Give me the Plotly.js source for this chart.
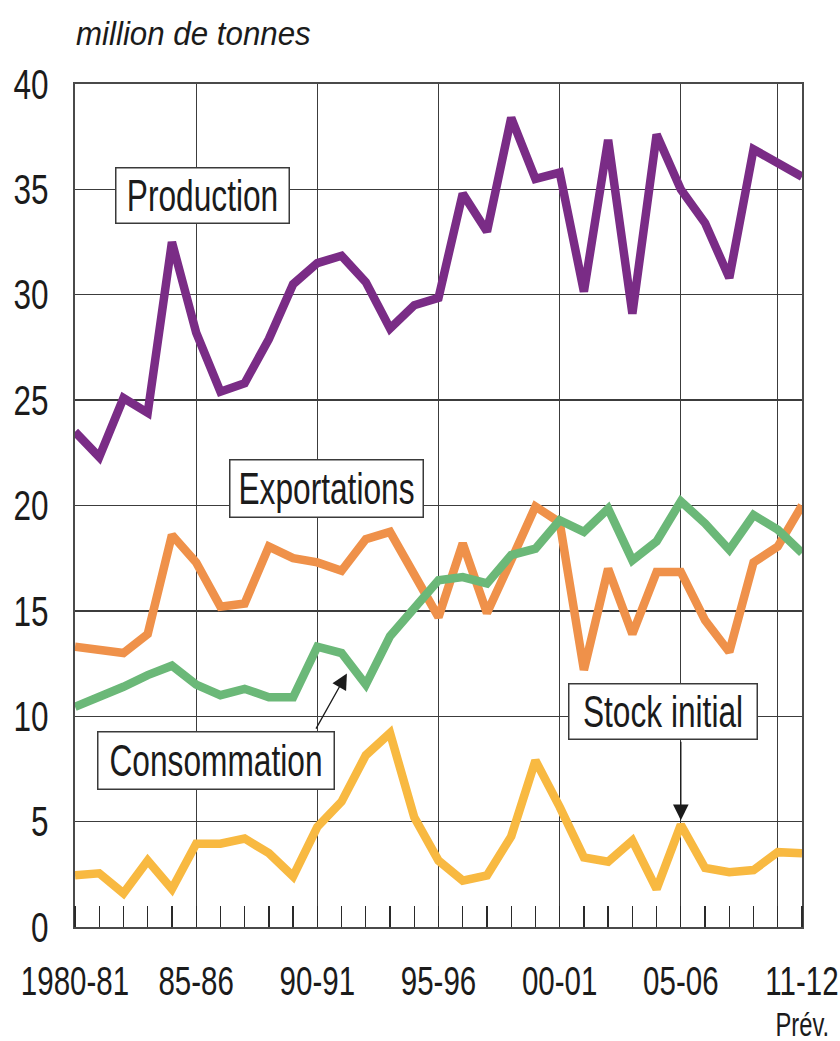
<!DOCTYPE html>
<html>
<head>
<meta charset="utf-8">
<script src="https://cdn.plot.ly/plotly-3.0.1.min.js"></script>
<style>
html,body{margin:0;padding:0;background:#fff;}
#chart{width:840px;height:1041px;}
</style>
</head>
<body>
<div id="chart"></div>
<script>
// Season index (0 = 1980-81 ... 30 = last season, forecast)
const seasonIndex = [0,1,2,3,4,5,6,7,8,9,10,11,12,13,14,15,16,17,18,19,20,21,22,23,24,25,26,27,28,29,30];

const production = [23.5,22.3,25.1,24.4,32.5,28.2,25.4,25.8,27.9,30.5,31.5,31.85,30.6,28.4,29.5,29.85,
                    34.8,33.0,38.4,35.5,35.8,30.15,37.35,29.1,37.6,35.0,33.4,30.8,36.9,36.25,35.6];
const exportations = [13.3,13.2,13.0,13.9,18.6,17.3,15.2,15.35,18.05,17.5,17.3,16.9,18.4,18.75,16.8,14.7,
                      18.2,14.9,17.4,19.95,19.2,12.2,17.0,13.9,16.85,16.85,14.55,13.05,17.3,18.05,20.0];
const consommation = [10.45,10.9,11.4,11.95,12.4,11.5,11.0,11.3,10.9,10.9,13.3,13.0,11.5,13.8,15.1,16.45,
                      16.6,16.3,17.65,17.95,19.3,18.75,19.85,17.4,18.3,20.2,19.15,17.9,19.55,18.85,17.75];
const stockInitial = [2.45,2.55,1.6,3.15,1.8,3.95,3.95,4.2,3.5,2.4,4.75,5.95,8.15,9.2,5.2,3.15,
                      2.2,2.45,4.3,7.9,5.7,3.3,3.1,4.1,1.8,4.85,2.8,2.6,2.7,3.55,3.5];

const tickIdx  = [0,5,10,15,20,25,29,30];
const tickText = ['1980-81','85-86','90-91','95-96','00-01','05-06','','11-12'];

const FONT = '"Liberation Sans", Arial, sans-serif';
const TXT = '#1b1b1b';

function line(y, color, name){
  return {x: seasonIndex, y: y, type:'scatter', mode:'lines', name:name,
          line:{color:color, width:8.5, shape:'linear'}, hoverinfo:'skip'};
}

const data = [
  line(stockInitial, '#F8B941', 'Stock initial'),
  line(exportations, '#EF914A', 'Exportations'),
  line(consommation, '#6BB878', 'Consommation'),
  line(production, '#7A2C86', 'Production')
];

function box(text, x, y, w, h){
  return {text:text, x:x, y:y, xref:'x', yref:'y', showarrow:false,
          width:w, height:h, bgcolor:'#fff', bordercolor:'#3a3a3a', borderwidth:1.5, borderpad:0,
          font:{family:FONT, size:44, color:TXT}};
}

const layout = {
  width:840, height:1041,
  margin:{l:75, r:38, t:84, b:114},
  paper_bgcolor:'#fff', plot_bgcolor:'#fff',
  showlegend:false,
  font:{family:FONT, color:TXT},
  title:{text:'<i>million de tonnes</i>', x:76/840, xanchor:'left', xref:'container',
         y:1-33/1041, yanchor:'middle', yref:'container',
         font:{family:FONT, size:34, color:TXT}},
  xaxis:{range:[0,30], type:'linear', fixedrange:true,
         tickmode:'array', tickvals:tickIdx, ticktext:tickText, tickangle:0,
         ticklabeloverflow:'allow',
         ticks:'', showgrid:true, gridcolor:'#3c3c3c', gridwidth:1.3,
         tickfont:{family:FONT, size:41, color:TXT},
         ticklabelstandoff:17,
         showline:true, linecolor:'#4a4a4a', linewidth:2, mirror:true,
         zeroline:false,
         minor:{tickmode:'linear', tick0:0, dtick:1, ticks:'inside', ticklen:21, tickwidth:1.3, tickcolor:'#2a2a2a', showgrid:false}},
  yaxis:{range:[0,40], tickmode:'linear', tick0:0, dtick:5, fixedrange:true,
         ticklabeloverflow:'allow',
         ticks:'', showgrid:true, gridcolor:'#3c3c3c', gridwidth:1.3,
         tickfont:{family:FONT, size:42, color:TXT},
         ticklabelstandoff:16,
         showline:true, linecolor:'#4a4a4a', linewidth:2, mirror:true, zeroline:false},
  annotations:[
    box('Production', 5.26, 34.70, 172, 54),
    box('Exportations', 10.36, 20.79, 192, 56),
    box('Consommation', 5.81, 7.92, 235, 56),
    box('Stock initial', 24.26, 10.23, 187, 54),
    {text:'Prév.', x:30, y:-0.1155, xref:'x', yref:'paper', showarrow:false, xanchor:'center', yanchor:'middle',
     font:{family:FONT, size:33, color:TXT}},
    {text:'', x:11.22, y:12.03, xref:'x', yref:'y', showarrow:true, ax:-31.7, ay:56.7,
     arrowhead:2, arrowsize:2.4, arrowwidth:1.3, arrowcolor:'#1b1b1b'},
    {text:'', x:25, y:5.07, xref:'x', yref:'y', showarrow:true, ax:0, ay:-80,
     arrowhead:2, arrowsize:2.4, arrowwidth:1.3, arrowcolor:'#1b1b1b'}
  ]
};

// horizontally condense text to mimic the condensed typeface of the original
function condense(el, f){
  const w = el.getComputedTextLength();
  if (w > 0) {
    el.setAttribute('textLength', (w * f).toFixed(2));
    el.setAttribute('lengthAdjust', 'spacingAndGlyphs');
  }
}

Plotly.newPlot('chart', data, layout, {displayModeBar:false, staticPlot:true}).then(function(gd){
  gd.querySelectorAll('.xtick text').forEach(el => condense(el, 0.72));
  gd.querySelectorAll('.ytick text').forEach(el => condense(el, 0.75));
  gd.querySelectorAll('.annotation-text').forEach(el => condense(el, 0.72));
  gd.querySelectorAll('.gtitle').forEach(el => condense(el, 0.92));
});
</script>
</body>
</html>
